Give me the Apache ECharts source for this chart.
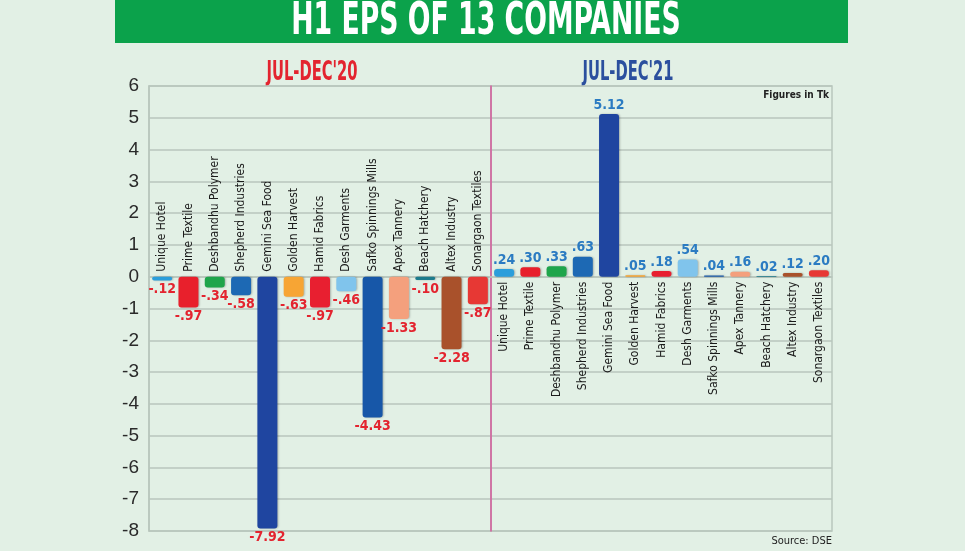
<!DOCTYPE html>
<html lang="en">
<head>
    <meta charset="UTF-8">
    <title>H1 EPS of 13 companies</title>
    <script src="https://cdn.jsdelivr.net/npm/echarts@6/dist/echarts.min.js"></script>
    <style>
        html, body { margin: 0; padding: 0; background: #e2f0e5; }
    </style>
</head>
<body>
<div id="main" style="width: 965px;height: 551px"></div>

<script type="text/javascript">
    // data
    var companies = ['Unique Hotel', 'Prime Textile', 'Deshbandhu Polymer', 'Shepherd Industries',
        'Gemini Sea Food', 'Golden Harvest', 'Hamid Fabrics', 'Desh Garments',
        'Safko Spinnings Mills', 'Apex Tannery', 'Beach Hatchery', 'Altex Industry', 'Sonargaon Textiles'];
    var eps2020 = [-0.12, -0.97, -0.34, -0.58, -7.92, -0.63, -0.97, -0.46, -4.43, -1.33, -0.10, -2.28, -0.87];
    var eps2021 = [0.24, 0.30, 0.33, 0.63, 5.12, 0.05, 0.18, 0.54, 0.04, 0.16, 0.02, 0.12, 0.20];
    var barColors = ['#2b9edb', '#e8202c', '#1fa54b', '#1d69b4', '#1f45a0', '#f7a534', '#e81f30',
        '#80c4ec', '#1757a8', '#f4a07d', '#1c7b8c', '#a9512b', '#e73834'];
    var yMin = -8, yMax = 6;

    var narrow = "'DejaVu Sans Condensed', sans-serif";

    function fmt(v) {
        var s = Math.abs(v).toFixed(2);
        if (s.charAt(0) === '0') s = s.slice(1);
        return (v < 0 ? '-' : '') + s;
    }

    function items(values) {
        return values.map(function (v, i) {
            return {value: v, itemStyle: {color: barColors[i]}};
        });
    }

    var myChart = echarts.init(document.getElementById('main'));

    var grey = '#b9c6bd';
    var gridLine = {show: true, lineStyle: {color: grey, width: 1.5}};
    var plotTop = 86, plotH = 445;
    // category axes sit on the zero line: shift them up from the grid bottom
    var zeroShift = -plotH * (0 - yMin) / (yMax - yMin);

    option = {
        backgroundColor: '#e2f0e5',
        animation: false,
        graphic: [
            {type: 'rect', shape: {x: 115, y: 0, width: 733, height: 43}, style: {fill: '#0ba24b'}},
            {
                type: 'text', x: 486, y: 22, scaleX: 0.66,
                style: {text: 'H1 EPS OF 13 COMPANIES', fill: '#fff', font: 'bold 45px ' + narrow,
                    textAlign: 'center', textVerticalAlign: 'middle'}
            },
            {
                type: 'text', x: 312, y: 73, scaleX: 0.63,
                style: {text: "JUL-DEC'20", fill: '#e3242f', font: 'bold 26px ' + narrow,
                    textAlign: 'center', textVerticalAlign: 'middle'}
            },
            {
                type: 'text', x: 628, y: 73, scaleX: 0.63,
                style: {text: "JUL-DEC'21", fill: '#2b4f9e', font: 'bold 26px ' + narrow,
                    textAlign: 'center', textVerticalAlign: 'middle'}
            },
            {
                type: 'text', x: 829, y: 95,
                style: {text: 'Figures in Tk', fill: '#222', font: 'bold 10px ' + narrow,
                    textAlign: 'right', textVerticalAlign: 'middle'}
            },
            {
                type: 'text', x: 832, y: 541,
                style: {text: 'Source: DSE', fill: '#222', font: '11px ' + narrow,
                    textAlign: 'right', textVerticalAlign: 'middle'}
            }
        ],
        grid: [
            {left: 149, right: 474, top: plotTop, height: plotH, outerBoundsMode: 'none',
                show: true, borderColor: grey, borderWidth: 1.5, backgroundColor: 'transparent'},
            {left: 491, right: 133, top: plotTop, height: plotH, outerBoundsMode: 'none',
                show: true, borderColor: grey, borderWidth: 1.5, backgroundColor: 'transparent'}
        ],
        xAxis: [
            {
                gridIndex: 0, type: 'category', data: companies, position: 'bottom', offset: zeroShift,
                axisLine: {show: true, onZero: false, lineStyle: {color: grey, width: 1.5}}, axisTick: {show: false},
                axisLabel: {inside: true, rotate: 90, margin: 5, interval: 0, fontSize: 12, color: '#1a1a1a', fontFamily: narrow}
            },
            {
                gridIndex: 1, type: 'category', data: companies, position: 'bottom', offset: zeroShift,
                axisLine: {show: true, onZero: false, lineStyle: {color: grey, width: 1.5}}, axisTick: {show: false},
                axisLabel: {rotate: 90, margin: 5, interval: 0, fontSize: 12, color: '#1a1a1a', fontFamily: narrow}
            }
        ],
        yAxis: [
            {
                gridIndex: 0, type: 'value', min: yMin, max: yMax, interval: 1,
                axisLine: {show: true, lineStyle: {color: grey, width: 1.5}},
                axisTick: {show: false},
                axisLabel: {fontSize: 19, color: '#2a2a2a', margin: 10, fontFamily: "'Liberation Sans', sans-serif"},
                splitLine: gridLine
            },
            {
                gridIndex: 1, type: 'value', min: yMin, max: yMax, interval: 1,
                axisLine: {show: true, lineStyle: {color: '#d65a9c', width: 1.5}},
                axisTick: {show: false},
                axisLabel: {show: false},
                splitLine: gridLine
            }
        ],
        series: [
            {
                name: "Jul-Dec'20", type: 'bar', xAxisIndex: 0, yAxisIndex: 0,
                data: items(eps2020), barWidth: 20,
                itemStyle: {borderRadius: 3, shadowColor: 'rgba(0,0,0,0.25)', shadowBlur: 2, shadowOffsetX: 1},
                label: {show: true, position: 'bottom', distance: 2, color: '#e3242f', fontSize: 14,
                    fontWeight: 'bold', fontFamily: narrow, formatter: function (p) { return fmt(p.value); }}
            },
            {
                name: "Jul-Dec'21", type: 'bar', xAxisIndex: 1, yAxisIndex: 1,
                data: items(eps2021), barWidth: 20,
                itemStyle: {borderRadius: 3, shadowColor: 'rgba(0,0,0,0.25)', shadowBlur: 2, shadowOffsetX: 1},
                label: {show: true, position: 'top', distance: 2, color: '#2b7bc2', fontSize: 14,
                    fontWeight: 'bold', fontFamily: narrow, formatter: function (p) { return fmt(p.value); }}
            }
        ]
    };

    myChart.setOption(option);
</script>
</body>
</html>
